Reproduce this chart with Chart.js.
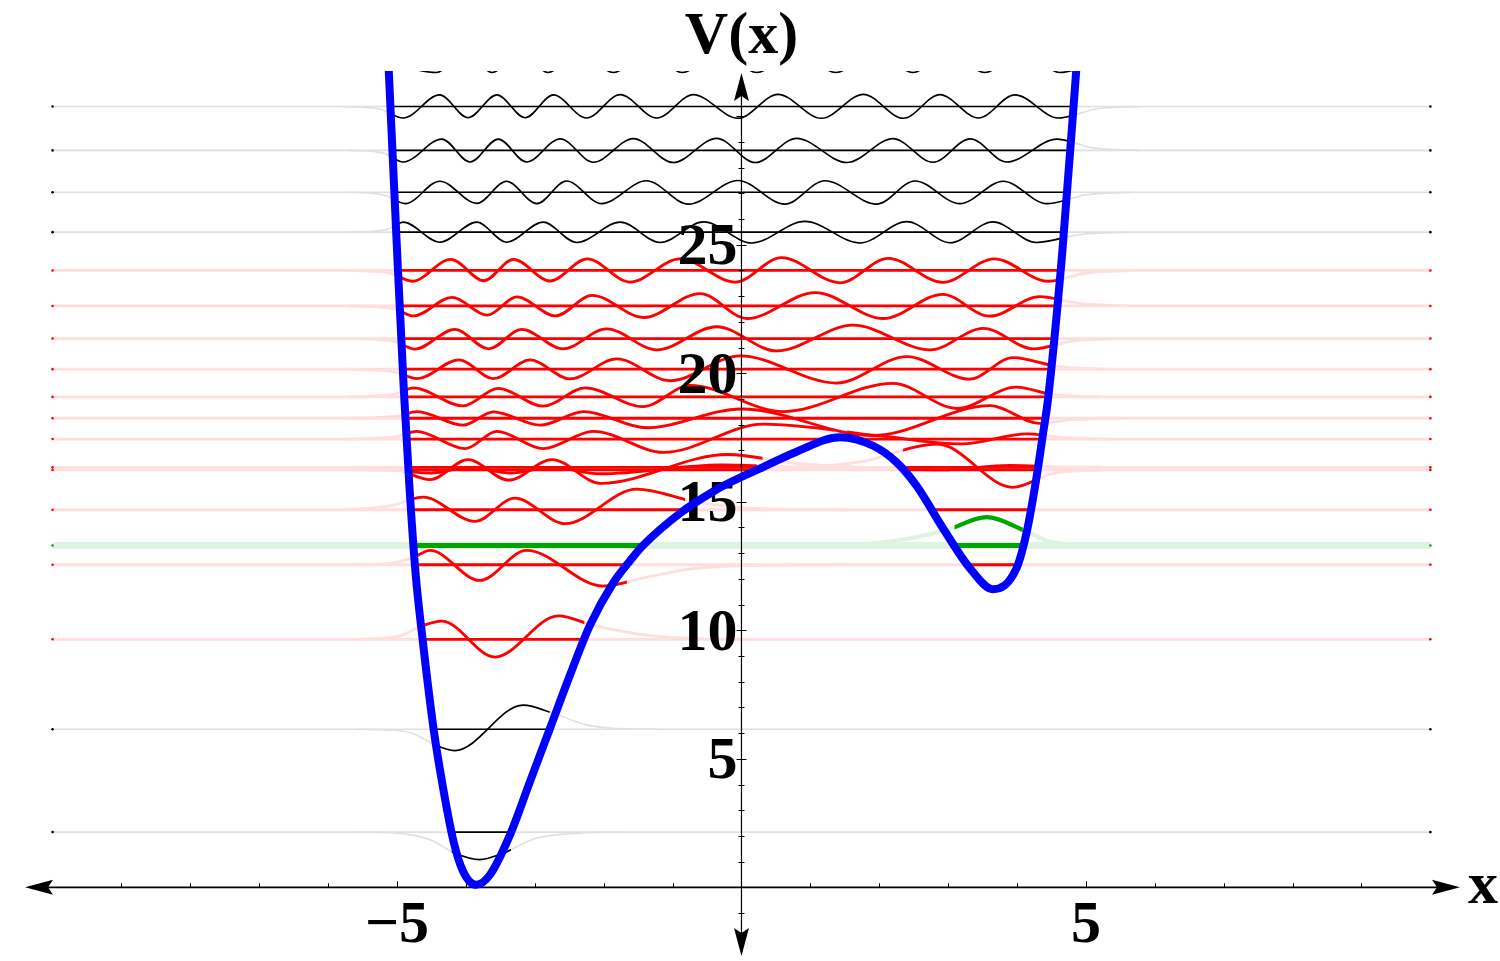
<!DOCTYPE html>
<html>
<head>
<meta charset="utf-8">
<title>V(x)</title>
<script src="https://cdn.jsdelivr.net/npm/chart.js@4.4.0/dist/chart.umd.min.js"></script>
<style>
  html, body { margin: 0; padding: 0; background: #fff; }
  canvas { display: block; }
</style>
</head>
<body>
<canvas id="wellChart" width="1500" height="961"></canvas>
<script>
// Потенциал V(x) (точки)
const potX = [-5.12, -5.0, -4.90, -4.82, -4.73, -4.63, -4.47, -4.33, -4.18, -4.04, -3.85, -3.65, -3.36, -3.07, -2.78, -2.49, -2.20, -1.86, -1.62, -1.43, -0.87, -0.41, -0.17, 0.32, 0.80, 1.43, 1.91, 2.25, 2.54, 2.93, 3.32, 3.65, 3.99, 4.14, 4.28, 4.38, 4.45, 4.66, 4.86];
const potV = [31.8, 24.8, 19.3, 15.6, 12.2, 9.68, 6.18, 3.85, 1.79, 0.62, 0.1, 0.49, 2.04, 4.11, 6.18, 8.25, 10.19, 11.85, 12.7, 13.30, 14.60, 15.40, 15.75, 16.36, 16.95, 17.51, 17.18, 16.54, 15.63, 13.95, 12.40, 11.6, 12.40, 13.82, 15.9, 17.7, 19.0, 24.81, 31.8];

// Уровни энергии и их группа (цвет)
const levelE = [2.15, 6.15, 9.65, 12.55, 13.30, 14.69, 16.24, 16.34, 17.44, 18.25, 19.08, 20.16, 21.35, 22.62, 24.00, 25.49, 27.04, 28.67, 30.38, 32.15];
const levelKind = ['black', 'black', 'red', 'red', 'green', 'red', 'red', 'red', 'red', 'red', 'red', 'red', 'red', 'red', 'red', 'black', 'black', 'black', 'black', 'black'];

// Волновые функции: x экстремумов/хвостов и отклонение от уровня
const waveX = [
  [-5.6, -5.0, -4.52, -4.16, -3.80, -3.51, -2.97, -2.34, -1.7],
  [-5.6, -5.0, -4.73, -4.45, -4.16, -3.17, -2.73, -2.25, -1.86, -1.2],
  [-5.6, -5.0, -4.62, -4.35, -3.58, -2.66, -2.15, -1.38, -0.6, 0.2],
  [-5.7, -5.1, -4.75, -4.52, -3.80, -3.12, -2.01, -1.4, -0.73, 0.6, 1.5],
  [1.4, 2.0, 2.5, 2.98, 3.56, 4.09, 4.47, 5.0],
  [-5.7, -5.1, -4.62, -3.87, -3.29, -2.56, -1.52, -0.65, 0.2, 1.5],
  [-5.7, -5.0, -4.5, -3.95, -3.35, -2.75, -2.05, -0.3, 0.8, 1.7, 2.85, 3.94, 4.5, 5.2],
  [-5.7, -5.0, -4.52, -3.97, -3.38, -2.75, -2.05, -0.2, 0.8, 1.6, 2.9, 3.9, 4.6, 5.3],
  [-5.7, -5.0, -4.72, -4.01, -3.55, -2.88, -2.15, -1.13, 0.32, 2.0, 3.2, 4.15, 4.7, 5.4],
  [-5.7, -5.0, -4.71, -4.04, -3.60, -2.92, -2.29, -1.38, 0.0, 1.91, 3.61, 4.33, 4.8, 5.5],
  [-5.7, -5.05, -4.76, -4.04, -3.53, -2.88, -2.27, -1.43, -0.75, 0.61, 2.20, 3.13, 3.99, 4.5, 5.2],
  [-5.7, -5.05, -4.71, -4.10, -3.60, -3.07, -2.49, -1.81, -1.04, -0.02, 1.38, 2.40, 3.31, 3.94, 4.6, 5.3],
  [-5.7, -5.05, -4.74, -4.16, -3.67, -3.19, -2.59, -1.96, -1.23, -0.36, 0.51, 1.62, 2.74, 3.51, 4.24, 4.8, 5.5],
  [-5.7, -5.05, -4.76, -4.20, -3.69, -3.26, -2.70, -2.17, -1.42, -0.60, 0.08, 1.07, 2.06, 2.92, 3.60, 4.33, 4.9, 5.6],
  [-5.7, -5.1, -4.78, -4.22, -3.74, -3.31, -2.78, -2.24, -1.62, -0.89, -0.09, 0.58, 1.43, 2.13, 2.92, 3.67, 4.45, 5.0, 5.7],
  [-5.7, -5.15, -4.91, -4.38, -3.84, -3.41, -2.88, -2.39, -1.76, -1.18, -0.55, 0.15, 0.92, 1.72, 2.40, 3.03, 3.65, 4.28, 4.9, 5.6],
  [-5.7, -5.2, -4.88, -4.38, -3.84, -3.41, -2.97, -2.54, -2.03, -1.38, -0.77, -0.05, 0.63, 1.21, 1.96, 2.52, 3.17, 3.80, 4.43, 5.0, 5.7],
  [-5.7, -5.2, -4.91, -4.35, -3.94, -3.53, -3.12, -2.63, -2.15, -1.57, -0.99, -0.36, 0.20, 0.80, 1.53, 2.20, 2.78, 3.32, 3.85, 4.58, 5.1, 5.8],
  [-5.8, -5.25, -4.91, -4.38, -3.97, -3.55, -3.14, -2.73, -2.25, -1.76, -1.23, -0.70, -0.05, 0.53, 1.16, 1.77, 2.35, 2.88, 3.44, 3.97, 4.60, 5.15, 5.8],
  [-5.2, -4.43, -4.0, -3.62, -3.2, -2.81, -2.35, -1.86, -1.35, -0.86, -0.3, 0.22, 0.8, 1.37, 1.95, 2.49, 3.0, 3.53, 4.1, 4.62, 5.2],
];
const waveA = [
  [0, -0.04, -0.3, -0.82, -1.07, -0.88, -0.23, -0.04, 0],
  [0, -0.05, -0.2, -0.61, -0.83, 0.94, 0.62, 0.17, 0.04, 0],
  [0, 0.1, 0.54, 0.71, -0.69, 0.91, 0.54, 0.16, 0.02, 0],
  [0, 0.05, 0.3, 0.56, -0.61, 0.56, -0.83, -0.5, -0.16, -0.01, 0],
  [0, 0.1, 0.3, 0.6, 1.1, 0.6, 0.15, 0],
  [0, 0.15, 0.49, -0.45, 0.45, -0.54, 0.8, 0.3, 0.05, 0],
  [0, -0.03, -0.12, 0.1, -0.12, 0.1, -0.15, 0.2, 0.12, 0.3, 1.0, -0.68, -0.15, 0],
  [0, -0.1, -0.48, 0.3, -0.5, 0.3, -0.62, 0.5, 0.15, 0.02, -0.1, 0.08, 0.02, 0],
  [0, 0.1, 0.3, -0.37, 0.3, -0.37, 0.3, -0.52, 0.58, 0.13, -0.19, 0.2, 0.05, 0],
  [0, 0.08, 0.26, -0.27, 0.25, -0.27, 0.26, -0.37, 0.36, -0.67, 0.49, -0.2, -0.05, 0],
  [0, 0.1, 0.35, -0.35, 0.33, -0.36, 0.35, -0.38, 0.45, -0.57, 0.53, -0.45, 0.38, 0.1, 0],
  [0, -0.1, -0.37, 0.36, -0.37, 0.36, -0.38, 0.4, -0.45, 0.52, -0.54, 0.49, -0.39, 0.45, 0.1, 0],
  [0, -0.1, -0.41, 0.36, -0.4, 0.36, -0.4, 0.38, -0.44, 0.46, -0.48, 0.52, -0.44, 0.4, -0.4, -0.1, 0],
  [0, -0.1, -0.39, 0.33, -0.36, 0.35, -0.39, 0.41, -0.45, 0.48, -0.49, 0.52, -0.49, 0.45, -0.4, 0.36, 0.1, 0],
  [0, -0.1, -0.42, 0.43, -0.4, 0.43, -0.41, 0.45, -0.45, 0.45, -0.45, 0.5, -0.48, 0.47, -0.46, 0.45, -0.42, -0.1, 0],
  [0, 0.1, 0.39, -0.39, 0.39, -0.39, 0.39, -0.4, 0.39, -0.4, 0.4, -0.42, 0.42, -0.42, 0.41, -0.41, 0.4, -0.4, -0.1, 0],
  [0, -0.1, -0.44, 0.43, -0.43, 0.43, -0.44, 0.44, -0.44, 0.45, -0.46, 0.46, -0.46, 0.45, -0.46, 0.44, -0.44, 0.43, -0.44, -0.1, 0],
  [0, -0.1, -0.45, 0.44, -0.45, 0.44, -0.45, 0.45, -0.46, 0.46, -0.47, 0.47, -0.47, 0.47, -0.47, 0.46, -0.46, 0.45, -0.45, 0.44, 0.1, 0],
  [0, -0.1, -0.45, 0.45, -0.44, 0.45, -0.44, 0.45, -0.45, 0.46, -0.45, 0.46, -0.46, 0.47, -0.46, 0.47, -0.46, 0.46, -0.45, 0.45, -0.45, -0.1, 0],
  [0, -0.45, 0.45, -0.45, 0.45, -0.45, 0.45, -0.45, 0.45, -0.45, 0.45, -0.45, 0.45, -0.45, 0.45, -0.45, 0.45, -0.45, 0.45, -0.45, 0],
];

// Подписи осей
const xTickValues = [-5, 5];
const xTickLabels = ['\u22125', '5'];
const yTickValues = [5, 10, 15, 20, 25];
const yTickLabels = ['5', '10', '15', '20', '25'];

// Диапазон осей
const X_MIN = -10.4, X_MAX = 10.43;
const Y_MIN = -2.71, Y_MAX = 31.76;
const LINE_FROM = -10, LINE_TO = 10;

// Стили групп
const STYLE = {
  black: { solid: '#000000', faint: '#e0e0e0', width: 1.6, faintWidth: 1.6 },
  red: { solid: '#ff0000', faint: '#ffdede', width: 2.8, faintWidth: 2.8 },
  green: { solid: '#00a600', faint: '#e0f2e0', width: 4.8, faintWidth: 7 },
};
const FONT = "bold 60px 'Liberation Serif', 'DejaVu Serif', serif";

// Классически разрешённые интервалы (E > V) — по точкам потенциала
function allowedSpans(e) {
  const spans = [];
  let start = e > potV[0] ? X_MIN : null;
  for (let k = 0; k < potX.length - 1; k++) {
    const a = potV[k] - e;
    const b = potV[k + 1] - e;
    if ((a > 0) !== (b > 0)) {
      const xc = potX[k] + ((potX[k + 1] - potX[k]) * a) / (a - b);
      if (start === null) start = xc;
      else {
        spans.push([start, xc]);
        start = null;
      }
    }
  }
  if (start !== null) spans.push([start, X_MAX]);
  return spans;
}

// Наборы данных
const datasets = [];
datasets.push({
  isPotential: true,
  data: potX.map((x, k) => ({ x, y: potV[k] })),
  borderColor: '#0000ff',
  borderWidth: 8,
  cubicInterpolationMode: 'monotone',
  pointRadius: 0,
  clip: 0,
  order: 0,
});

levelE.forEach((e, i) => {
  const st = STYLE[levelKind[i]];
  const spans = allowedSpans(e);
  const wave = waveX[i].map((x, k) => ({ x, y: e + waveA[i][k] }));
  const line = [{ x: LINE_FROM, y: e }, { x: LINE_TO, y: e }];
  const waveWidth = levelKind[i] === 'green' ? 4.2 : st.width;

  datasets.push({
    data: line, borderColor: st.faint, borderWidth: st.faintWidth,
    pointRadius: 1.3, pointBorderWidth: 0, pointBackgroundColor: st.solid, order: 4,
  });
  datasets.push({
    data: wave, borderColor: st.faint, borderWidth: waveWidth,
    cubicInterpolationMode: 'monotone', pointRadius: 0, order: 3,
  });
  datasets.push({
    data: line, spans, borderColor: st.solid, borderWidth: st.width,
    pointRadius: 0, order: 2,
  });
  datasets.push({
    data: wave, spans, borderColor: st.solid, borderWidth: waveWidth,
    cubicInterpolationMode: 'monotone', pointRadius: 0, order: 1,
  });
});

// Стрелка на конце оси
function arrowHead(ctx, tx, ty, dx, dy) {
  const L = 28, w = 7.5, n = 5;
  const px = -dy, py = dx;
  ctx.beginPath();
  ctx.moveTo(tx, ty);
  ctx.lineTo(tx - dx * L + px * w, ty - dy * L + py * w);
  ctx.lineTo(tx - dx * (L - n), ty - dy * (L - n));
  ctx.lineTo(tx - dx * L - px * w, ty - dy * L - py * w);
  ctx.closePath();
  ctx.fill();
}

// Оси, засечки и подписи
function drawAxes(chart) {
  const { ctx, chartArea: area, scales: { x, y } } = chart;
  const x0 = x.getPixelForValue(0);
  const y0 = y.getPixelForValue(0);
  const left = area.left, right = area.right;
  const top = area.top + 2, bottom = area.bottom - 1;

  ctx.save();
  ctx.strokeStyle = '#000';
  ctx.fillStyle = '#000';

  ctx.lineWidth = 1.6;
  ctx.beginPath();
  ctx.moveTo(left + 20, y0);
  ctx.lineTo(right - 20, y0);
  ctx.stroke();
  ctx.lineWidth = 1.2;
  ctx.beginPath();
  ctx.moveTo(x0, bottom - 20);
  ctx.lineTo(x0, top + 20);
  ctx.stroke();

  arrowHead(ctx, right, y0, 1, 0);
  arrowHead(ctx, left, y0, -1, 0);
  arrowHead(ctx, x0, top, 0, -1);
  arrowHead(ctx, x0, bottom, 0, 1);

  // засечки
  ctx.lineWidth = 1;
  ctx.beginPath();
  for (let v = -9; v <= 9; v++) {
    if (v === 0) continue;
    const px = Math.round(x.getPixelForValue(v)) + 0.5;
    ctx.moveTo(px, y0);
    ctx.lineTo(px, y0 - (v % 5 === 0 ? 6 : 4));
  }
  for (let v = -2; v <= 31; v++) {
    if (v === 0) continue;
    const py = Math.round(y.getPixelForValue(v)) + 0.5;
    const len = v % 5 === 0 ? 5 : 3;
    ctx.moveTo(x0 - len, py);
    ctx.lineTo(x0 + len, py);
  }
  ctx.stroke();

  ctx.font = FONT;
  ctx.textAlign = 'center';
  ctx.textBaseline = 'alphabetic';
  xTickValues.forEach((v, k) => {
    ctx.fillText(xTickLabels[k], x.getPixelForValue(v), y0 + 55);
  });
  ctx.textAlign = 'right';
  ctx.textBaseline = 'middle';
  yTickValues.forEach((v, k) => {
    ctx.fillText(yTickLabels[k], x0 - 4, y.getPixelForValue(v) + 4);
  });

  ctx.textAlign = 'center';
  ctx.textBaseline = 'alphabetic';
  ctx.fillText('V(x)', x0, 53);
  ctx.fillText('x', right + 23, y0 + 16);
  ctx.restore();
}

// Плагин: обрезка сплошных линий по разрешённым интервалам + оси под кривой V
const spanPlugin = {
  id: 'spanClip',
  beforeDatasetDraw(chart, args) {
    const ds = chart.data.datasets[args.index];
    if (ds.isPotential) drawAxes(chart);
    if (ds.spans) {
      const { ctx, chartArea: a, scales: { x } } = chart;
      ctx.save();
      ctx.beginPath();
      ds.spans.forEach(([x1, x2]) => {
        const p1 = x.getPixelForValue(x1);
        const p2 = x.getPixelForValue(x2);
        ctx.rect(p1, a.top - 5, p2 - p1, a.bottom - a.top + 10);
      });
      ctx.clip();
    }
  },
  afterDatasetDraw(chart, args) {
    if (chart.data.datasets[args.index].spans) chart.ctx.restore();
  },
};

const ctx = document.getElementById('wellChart').getContext('2d');
new Chart(ctx, {
  type: 'line',
  data: { datasets },
  options: {
    responsive: false,
    animation: false,
    events: [],
    layout: { padding: { left: 25, right: 40, top: 71, bottom: 2 } },
    scales: {
      x: { type: 'linear', min: X_MIN, max: X_MAX, display: false },
      y: { type: 'linear', min: Y_MIN, max: Y_MAX, display: false },
    },
    plugins: { legend: { display: false }, tooltip: { enabled: false } },
  },
  plugins: [spanPlugin],
});
</script>
</body>
</html>
